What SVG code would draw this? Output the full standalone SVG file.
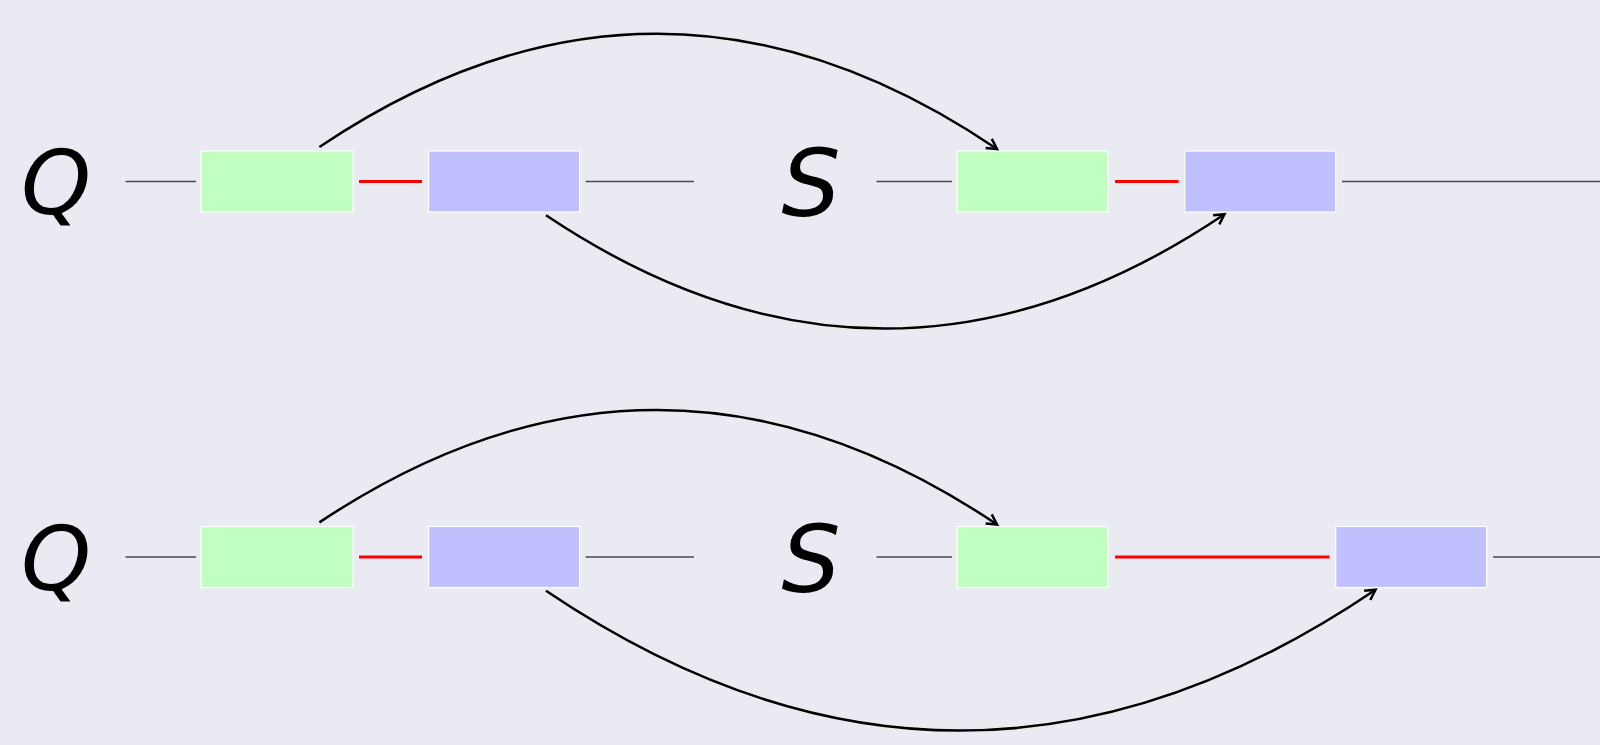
<svg xmlns="http://www.w3.org/2000/svg" width="1600" height="745" viewBox="0 0 1600 745">
<style>
.bg{fill:#eaeaf2}
.g{fill:#c0ffc0;stroke:#ffffff;stroke-width:1.2}
.b{fill:#c0c0ff;stroke:#ffffff;stroke-width:1.2}
.k{stroke:#4a4a4a;stroke-width:1.5;fill:none}
.r{stroke:#ff0000;stroke-width:3;fill:none}
.a{stroke:#000;stroke-width:2.5;fill:none;marker-end:url(#ah)}
.q{font-family:"DejaVu Sans",sans-serif;font-style:oblique;font-size:89px;fill:#000;text-anchor:middle}
.s{font-family:"DejaVu Sans",sans-serif;font-style:oblique;font-size:93px;fill:#000;text-anchor:middle}
</style>
<defs>
<marker id="ah" markerUnits="userSpaceOnUse" markerWidth="16" markerHeight="16" viewBox="-13 -8 16 16" refX="0" refY="0" orient="auto">
<path d="M-10,-5.5 L0,0 L-10,5.5" fill="none" stroke="#000" stroke-width="2.5"/>
</marker>
</defs>
<rect class="bg" x="0" y="0" width="1600" height="745"/>
<g id="row1">
<g id="q1"><text class="q" x="56" y="214">Q</text></g>
<g id="s1"><text class="s" x="811" y="216">S</text></g>
<g id="g1a"><rect class="g" x="201" y="151" width="152" height="61"/></g>
<g id="b1a"><rect class="b" x="428.6" y="151" width="151" height="61"/></g>
<g id="g1b"><rect class="g" x="957" y="151" width="151" height="61"/></g>
<g id="b1b"><rect class="b" x="1184.7" y="151" width="151" height="61"/></g>
</g>
<g id="row2">
<g id="q2"><text class="q" x="56" y="589.5">Q</text></g>
<g id="s2"><text class="s" x="811" y="591.5">S</text></g>
<g id="g2a"><rect class="g" x="201" y="526.5" width="152" height="61"/></g>
<g id="b2a"><rect class="b" x="428.6" y="526.5" width="151" height="61"/></g>
<g id="g2b"><rect class="g" x="957" y="526.5" width="151" height="61"/></g>
<g id="b2b"><rect class="b" x="1335.7" y="526.5" width="151" height="61"/></g>
</g>
<g id="connectors">
<line class="k" x1="125.5" y1="181.5" x2="196" y2="181.5"/>
<line class="r" x1="359" y1="181.5" x2="422" y2="181.5"/>
<line class="k" x1="585.7" y1="181.5" x2="694" y2="181.5"/>
<line class="k" x1="876.5" y1="181.5" x2="952" y2="181.5"/>
<line class="r" x1="1115" y1="181.5" x2="1178.6" y2="181.5"/>
<line class="k" x1="1342" y1="181.5" x2="1600" y2="181.5"/>
<line class="k" x1="125.5" y1="557" x2="196" y2="557"/>
<line class="r" x1="359" y1="557" x2="422" y2="557"/>
<line class="k" x1="585.7" y1="557" x2="694" y2="557"/>
<line class="k" x1="876.5" y1="557" x2="952" y2="557"/>
<line class="r" x1="1115" y1="557" x2="1329.6" y2="557"/>
<line class="k" x1="1493" y1="557" x2="1600" y2="557"/>
<path class="a" d="M319.4,147 Q658,-80.6 997,149"/>
<path class="a" d="M546,215.3 Q885.3,442.4 1224.5,214.3"/>
<path class="a" d="M319.4,522.4 Q658,296.5 997,524.5"/>
<path class="a" d="M546,590.8 Q960.8,870.9 1375.5,589.8"/>
</g>
</svg>
